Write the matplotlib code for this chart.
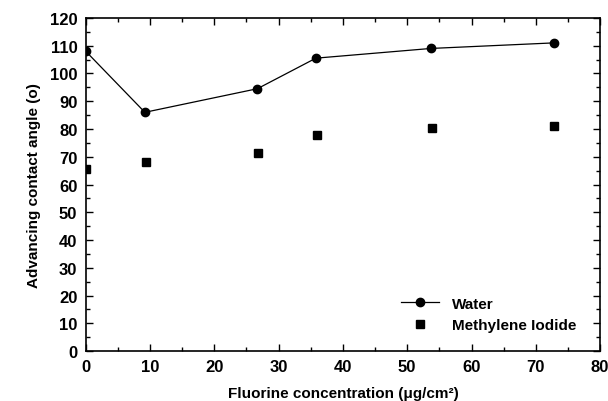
import numpy as np
import matplotlib
matplotlib.use("Agg")
import matplotlib.pyplot as plt
from matplotlib.ticker import MultipleLocator

plt.rcParams['font.family'] = ['Liberation Sans', 'DejaVu Sans']

# data
fluorine = [0, 9.2, 26.7, 35.8, 53.7, 72.8]
water = [108, 86, 94.5, 105.5, 109, 111]
mi_x = [0, 9.3, 26.8, 35.9, 53.8, 72.8]
methylene_iodide = [65.5, 68, 71.5, 78, 80.5, 81]

fig = plt.figure(figsize=(6.08, 4.02), dpi=100)
ax = fig.add_axes([0.141, 0.124, 0.846, 0.829])

ax.plot(fluorine, water, color='black', lw=0.9, marker='o', ms=6, label='Water')
ax.plot(mi_x, methylene_iodide, ls='none', color='black', marker='s', ms=6,
        label='Methylene Iodide')

ax.set_xlim(0, 80)
ax.set_ylim(0, 120)
ax.xaxis.set_major_locator(MultipleLocator(10))
ax.xaxis.set_minor_locator(MultipleLocator(5))
ax.yaxis.set_major_locator(MultipleLocator(10))
ax.yaxis.set_minor_locator(MultipleLocator(5))
ax.tick_params(which='both', direction='in', top=True, right=True, width=1)
ax.tick_params(which='major', length=5, labelsize=12, pad=6)
ax.tick_params(which='minor', length=3)
for lab in ax.get_xticklabels() + ax.get_yticklabels():
    lab.set_fontweight('bold')
for s in ax.spines.values():
    s.set_linewidth(1.2)

ax.set_xlabel('Fluorine concentration (\u03bcg/cm\u00b2)', fontsize=11, fontweight='bold', labelpad=8)
ax.set_ylabel('Advancing contact angle (o)', fontsize=11, fontweight='bold', labelpad=6)

ax.legend(loc='lower right', bbox_to_anchor=(0.98, 0.015), frameon=False,
          prop={'weight': 'bold', 'size': 11}, handlelength=2.5)

fig.savefig('out.png', dpi=100)
